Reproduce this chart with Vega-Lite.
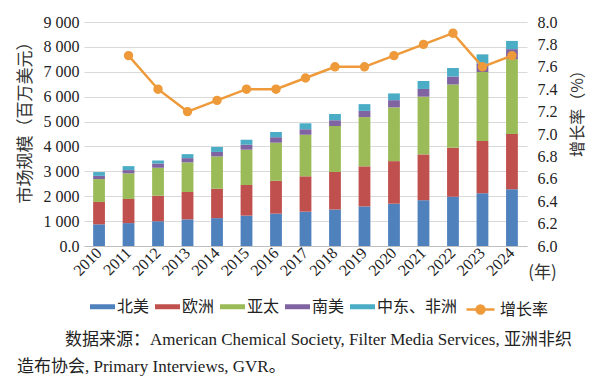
{
  "$schema": "https://vega.github.io/schema/vega-lite/v6.json",
  "width": 443,
  "height": 224,
  "autosize": "none",
  "padding": {"left": 84, "top": 22, "right": 73, "bottom": 131},
  "background": "white",
  "config": {
    "view": {"stroke": null},
    "font": "Liberation Serif",
    "axis": {"labelFont": "Liberation Serif", "labelFontSize": 16, "labelColor": "#222222", "titleFont": "Noto Sans CJK SC", "titleFontWeight": "normal", "titleColor": "#333333"},
    "legend": {"labelFont": "Noto Sans CJK SC", "labelFontSize": 16, "labelColor": "#222222", "padding": 0},
    "title": {"font": "Liberation Serif, Noto Sans CJK SC", "fontSize": 17, "fontWeight": "normal", "color": "#222222"}
  },
  "title": {
    "text": ["\u2800\u2800\u2800\u2800数据来源：American Chemical Society, Filter Media Services, 亚洲非织", "造布协会, Primary Interviews, GVR。"],
    "orient": "bottom",
    "anchor": "start",
    "frame": "group",
    "dx": -67,
    "offset": 13,
    "lineHeight": 27
  },
  "datasets": {
    "bars": [
      {"year": "2010", "region": "北美", "value": 870}, {"year": "2010", "region": "欧洲", "value": 900}, {"year": "2010", "region": "亚太", "value": 920}, {"year": "2010", "region": "南美", "value": 130}, {"year": "2010", "region": "中东、非洲", "value": 150},
      {"year": "2011", "region": "北美", "value": 920}, {"year": "2011", "region": "欧洲", "value": 970}, {"year": "2011", "region": "亚太", "value": 1030}, {"year": "2011", "region": "南美", "value": 130}, {"year": "2011", "region": "中东、非洲", "value": 160},
      {"year": "2012", "region": "北美", "value": 990}, {"year": "2012", "region": "欧洲", "value": 1030}, {"year": "2012", "region": "亚太", "value": 1120}, {"year": "2012", "region": "南美", "value": 170}, {"year": "2012", "region": "中东、非洲", "value": 130},
      {"year": "2013", "region": "北美", "value": 1070}, {"year": "2013", "region": "欧洲", "value": 1100}, {"year": "2013", "region": "亚太", "value": 1190}, {"year": "2013", "region": "南美", "value": 170}, {"year": "2013", "region": "中东、非洲", "value": 160},
      {"year": "2014", "region": "北美", "value": 1120}, {"year": "2014", "region": "欧洲", "value": 1180}, {"year": "2014", "region": "亚太", "value": 1300}, {"year": "2014", "region": "南美", "value": 180}, {"year": "2014", "region": "中东、非洲", "value": 200},
      {"year": "2015", "region": "北美", "value": 1220}, {"year": "2015", "region": "欧洲", "value": 1230}, {"year": "2015", "region": "亚太", "value": 1420}, {"year": "2015", "region": "南美", "value": 200}, {"year": "2015", "region": "中东、非洲", "value": 200},
      {"year": "2016", "region": "北美", "value": 1300}, {"year": "2016", "region": "欧洲", "value": 1320}, {"year": "2016", "region": "亚太", "value": 1530}, {"year": "2016", "region": "南美", "value": 220}, {"year": "2016", "region": "中东、非洲", "value": 210},
      {"year": "2017", "region": "北美", "value": 1380}, {"year": "2017", "region": "欧洲", "value": 1420}, {"year": "2017", "region": "亚太", "value": 1670}, {"year": "2017", "region": "南美", "value": 220}, {"year": "2017", "region": "中东、非洲", "value": 240},
      {"year": "2018", "region": "北美", "value": 1470}, {"year": "2018", "region": "欧洲", "value": 1500}, {"year": "2018", "region": "亚太", "value": 1850}, {"year": "2018", "region": "南美", "value": 230}, {"year": "2018", "region": "中东、非洲", "value": 250},
      {"year": "2019", "region": "北美", "value": 1590}, {"year": "2019", "region": "欧洲", "value": 1610}, {"year": "2019", "region": "亚太", "value": 1980}, {"year": "2019", "region": "南美", "value": 250}, {"year": "2019", "region": "中东、非洲", "value": 270},
      {"year": "2020", "region": "北美", "value": 1700}, {"year": "2020", "region": "欧洲", "value": 1710}, {"year": "2020", "region": "亚太", "value": 2160}, {"year": "2020", "region": "南美", "value": 290}, {"year": "2020", "region": "中东、非洲", "value": 270},
      {"year": "2021", "region": "北美", "value": 1840}, {"year": "2021", "region": "欧洲", "value": 1840}, {"year": "2021", "region": "亚太", "value": 2320}, {"year": "2021", "region": "南美", "value": 310}, {"year": "2021", "region": "中东、非洲", "value": 320},
      {"year": "2022", "region": "北美", "value": 1980}, {"year": "2022", "region": "欧洲", "value": 1970}, {"year": "2022", "region": "亚太", "value": 2540}, {"year": "2022", "region": "南美", "value": 320}, {"year": "2022", "region": "中东、非洲", "value": 340},
      {"year": "2023", "region": "北美", "value": 2120}, {"year": "2023", "region": "欧洲", "value": 2100}, {"year": "2023", "region": "亚太", "value": 2770}, {"year": "2023", "region": "南美", "value": 340}, {"year": "2023", "region": "中东、非洲", "value": 370},
      {"year": "2024", "region": "北美", "value": 2280}, {"year": "2024", "region": "欧洲", "value": 2220}, {"year": "2024", "region": "亚太", "value": 3010}, {"year": "2024", "region": "南美", "value": 400}, {"year": "2024", "region": "中东、非洲", "value": 330}
    ],
    "growth": [
      {"year": "2011", "series": "增长率", "rate": 7.7},
      {"year": "2012", "series": "增长率", "rate": 7.4},
      {"year": "2013", "series": "增长率", "rate": 7.2},
      {"year": "2014", "series": "增长率", "rate": 7.3},
      {"year": "2015", "series": "增长率", "rate": 7.4},
      {"year": "2016", "series": "增长率", "rate": 7.4},
      {"year": "2017", "series": "增长率", "rate": 7.5},
      {"year": "2018", "series": "增长率", "rate": 7.6},
      {"year": "2019", "series": "增长率", "rate": 7.6},
      {"year": "2020", "series": "增长率", "rate": 7.7},
      {"year": "2021", "series": "增长率", "rate": 7.8},
      {"year": "2022", "series": "增长率", "rate": 7.9},
      {"year": "2023", "series": "增长率", "rate": 7.6},
      {"year": "2024", "series": "增长率", "rate": 7.7}
    ]
  },
  "layer": [
    {
      "data": {"name": "bars"},
      "transform": [{"calculate": "indexof(['北美','欧洲','亚太','南美','中东、非洲'], datum.region)", "as": "stackOrder"}],
      "mark": {"type": "bar"},
      "encoding": {
        "x": {
          "field": "year", "type": "ordinal",
          "scale": {"domain": ["2010","2011","2012","2013","2014","2015","2016","2017","2018","2019","2020","2021","2022","2023","2024"], "paddingInner": 0.6, "paddingOuter": 0.31},
          "axis": {"labelAngle": -45, "labelAlign": "right", "labelBaseline": "middle", "labelPadding": 4, "ticks": false, "domain": true, "domainColor": "#bfbfbf", "title": "(年)", "titleAngle": 0, "titleAlign": "center", "titleBaseline": "middle", "titleX": 458, "titleY": 26, "titleFontSize": 17}
        },
        "y": {
          "field": "value", "type": "quantitative", "stack": "zero",
          "scale": {"domain": [0, 9000]},
          "axis": {"values": [0,1000,2000,3000,4000,5000,6000,7000,8000,9000], "labelExpr": "datum.value == 0 ? '0.0' : replace(format(datum.value, ','), ',', ' ')", "grid": true, "gridColor": "#d9d9d9", "domain": false, "ticks": false, "labelPadding": 5, "title": "市场规模（百万美元）", "titleFontSize": 17, "titleX": -59, "titleY": 96, "titleAngle": -90, "titleBaseline": "middle"}
        },
        "order": {"field": "stackOrder", "type": "quantitative", "sort": "ascending"},
        "color": {
          "field": "region", "type": "nominal",
          "sort": ["北美", "欧洲", "亚太", "南美", "中东、非洲"],
          "scale": {"domain": ["北美", "欧洲", "亚太", "南美", "中东、非洲"], "range": ["#4F81BD", "#C0504D", "#9BBB59", "#8064A2", "#4BACC6"]},
          "legend": {"orient": "none", "direction": "horizontal", "legendX": 6, "legendY": 272, "title": null, "symbolType": "M-1,-0.2H1V0.2H-1Z", "symbolSize": 625, "symbolStrokeWidth": 0, "labelOffset": 2, "columnPadding": 5}
        }
      }
    },
    {
      "data": {"name": "growth"},
      "mark": {"type": "line", "strokeWidth": 2.5, "point": {"filled": true, "size": 55, "fill": "#EE9A3A"}},
      "encoding": {
        "x": {"field": "year", "type": "ordinal"},
        "y": {
          "field": "rate", "type": "quantitative",
          "scale": {"domain": [6, 8]},
          "axis": {"orient": "right", "values": [6.0,6.2,6.4,6.6,6.8,7.0,7.2,7.4,7.6,7.8,8.0], "format": ".1f", "grid": false, "domain": false, "ticks": false, "labelPadding": 10, "title": "增长率（%）", "titleFontSize": 16, "titleAngle": -90, "titleX": 50, "titleY": 87, "titleBaseline": "middle"}
        },
        "stroke": {
          "field": "series", "type": "nominal",
          "scale": {"domain": ["增长率"], "range": ["#EE9A3A"]},
          "legend": {"orient": "none", "direction": "horizontal", "legendX": 381, "legendY": 272, "title": null, "symbolType": "M-1,0H1M-0.28,0A0.28,0.28,0,1,1,0.28,0A0.28,0.28,0,1,1,-0.28,0Z", "symbolSize": 784, "symbolStrokeWidth": 2.5, "symbolFillColor": "#EE9A3A", "labelOffset": 4}
        }
      }
    }
  ],
  "resolve": {"scale": {"y": "independent"}}
}
